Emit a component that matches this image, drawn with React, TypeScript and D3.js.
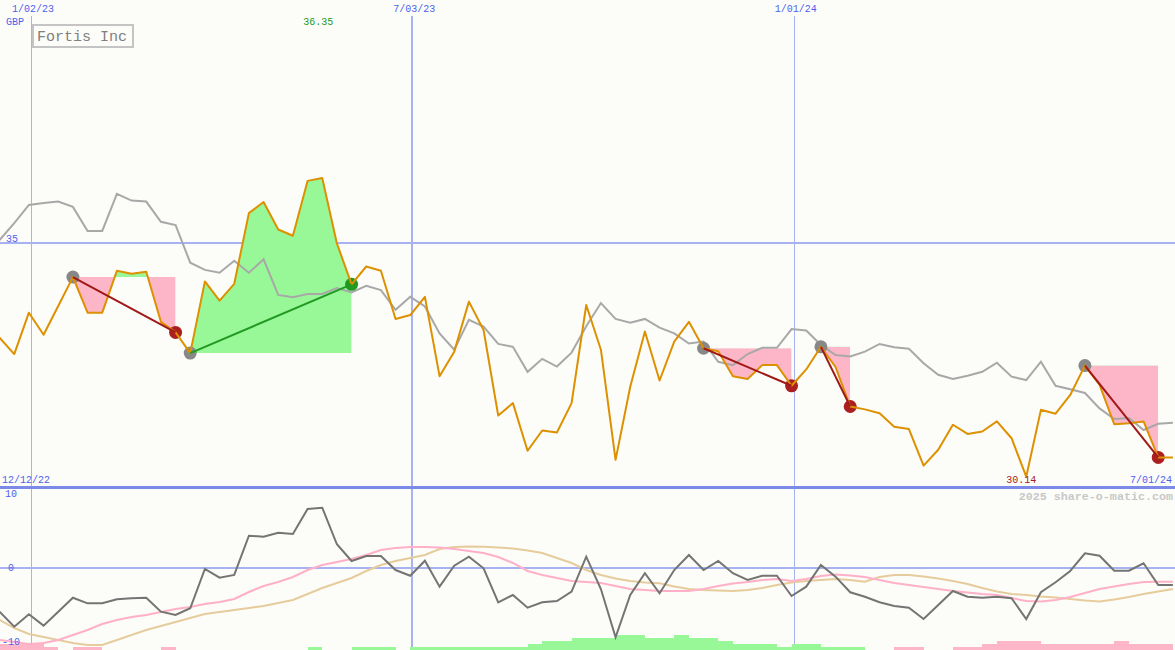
import * as d3 from "d3";

// weekly closes, Sunday 18 Dec 2022 .. Sunday 30 Jun 2024
const weeks = d3.timeWeek.range(new Date(2022, 11, 18), new Date(2024, 6, 1));

const price = [
  33.03, 32.69, 33.55, 33.09, 33.69, 34.29, 33.55, 33.55, 34.42, 34.36,
  34.4, 33.36, 33.14, 32.71, 34.2, 33.8, 34.15, 35.62, 35.85, 35.28,
  35.15, 36.29, 36.35, 34.99, 34.14, 34.51, 34.42, 33.42, 33.5, 33.88,
  32.23, 32.74, 33.78, 33.19, 31.41, 31.67, 30.68, 31.1, 31.06, 31.67,
  33.71, 32.78, 30.49, 32.01, 33.16, 32.14, 32.95, 33.36, 32.81, 32.75,
  32.23, 32.17, 32.46, 32.46, 32.03, 32.37, 32.84, 32.42, 31.6, 31.54,
  31.46, 31.18, 31.13, 30.37, 30.7, 31.22, 31.03, 31.08, 31.29, 30.94,
  30.14, 31.53, 31.45, 31.84, 32.45, 32.05, 31.23, 31.25, 31.29, 30.54,
  30.54,
];

const sector = [
  35.06, 35.41, 35.79, 35.83, 35.86, 35.75, 35.25, 35.25, 36.02, 35.88,
  35.86, 35.44, 35.37, 34.59, 34.44, 34.38, 34.63, 34.38, 34.66, 33.92,
  33.87, 33.94, 33.94, 34.06, 33.97, 34.11, 34.02, 33.61, 33.88, 33.68,
  33.12, 32.78, 33.4, 33.26, 32.9, 32.84, 32.32, 32.59, 32.43, 32.72,
  33.27, 33.75, 33.42, 33.34, 33.42, 33.24, 33.12, 32.91, 32.95, 32.53,
  32.46, 32.69, 32.82, 32.82, 33.21, 33.18, 32.88, 32.67, 32.64, 32.74,
  32.9, 32.83, 32.8, 32.5, 32.26, 32.17, 32.24, 32.32, 32.51, 32.22,
  32.15, 32.53, 32.03, 31.96, 31.88, 31.56, 31.34, 31.36, 31.11, 31.24,
  31.26,
];

const momentum = [
  -5.97, -8.0, -6.32, -7.86, -5.97, -4.08, -4.84, -4.84, -4.3, -4.16,
  -4.08, -5.97, -6.42, -5.51, -0.2, -1.38, -1.01, 4.3, 4.16, 4.7,
  4.53, 7.91, 8.08, 3.14, 0.88, 1.55, 1.55, -0.34, -1.11, 0.92,
  -2.59, 0.24, 1.46, -0.11, -4.7, -3.72, -5.43, -4.7, -4.53, -3.27,
  1.46, -2.91, -9.43, -3.72, -0.78, -3.49, -0.34, 1.69, -0.34, 0.88,
  -0.78, -1.69, -1.11, -1.11, -3.85, -2.59, 0.34, -1.24, -3.35, -3.95,
  -4.7, -5.2, -5.43, -6.96, -5.07, -3.18, -3.95, -4.08, -3.95, -4.16,
  -6.96, -3.35, -2.0, -0.47, 1.92, 1.59, -0.43, -0.43, 0.57, -2.36,
  -2.36,
];

const fastAvg = [
  -9.8, -10.07, -10.34, -10.2, -9.8, -9.12, -8.45, -7.64, -7.09, -6.69,
  -6.42, -6.01, -5.61, -5.34, -4.93, -4.66, -4.26, -3.31, -2.5, -1.96,
  -1.28, -0.34, 0.34, 0.74, 1.15, 1.69, 2.36, 2.64, 2.77, 2.77,
  2.7, 2.5, 2.23, 1.96, 1.42, 0.61, -0.47, -1.01, -1.42, -1.82,
  -1.96, -2.09, -2.5, -2.91, -3.04, -3.18, -3.18, -3.18, -2.91, -2.5,
  -2.16, -1.96, -1.69, -1.55, -1.82, -1.55, -1.15, -0.95, -1.08, -1.28,
  -1.69, -2.09, -2.36, -2.64, -2.91, -3.18, -3.38, -3.58, -3.72, -4.12,
  -4.53, -4.59, -4.39, -3.99, -3.45, -2.91, -2.57, -2.23, -1.96, -1.92,
  -1.92,
];

const slowAvg = [
  -7.09, -8.18, -8.99, -9.39, -9.8, -10.2, -10.47, -10.47, -9.8, -9.12,
  -8.45, -7.91, -7.36, -6.82, -6.28, -6.01, -5.74, -5.47, -5.2, -4.8,
  -4.39, -3.58, -2.77, -2.09, -1.42, -0.47, 0.34, 0.88, 1.28, 1.69,
  2.5, 2.77, 2.84, 2.81, 2.7, 2.57, 2.3, 1.96, 1.28, 0.61,
  -0.34, -1.01, -1.49, -1.82, -2.03, -2.14, -2.57, -2.91, -3.04, -3.11,
  -3.18, -3.04, -2.77, -2.36, -2.03, -1.82, -1.69, -1.55, -1.69, -1.92,
  -1.28, -1.01, -1.01, -1.22, -1.49, -1.82, -2.23, -2.77, -3.24, -3.58,
  -3.72, -3.92, -4.05, -4.26, -4.46, -4.59, -4.32, -3.99, -3.58, -3.24,
  -2.91,
];

// signed strength band along the bottom
const strength = [
  -2, -2, -2, -1, 0, -1, -1, 0, 0, 0,
  0, -1, 0, 0, 0, 0, 0, 0, 0, 0,
  0, 1, 0, 0, 1, 1, 1, 0, 1, 1,
  1, 1, 1, 1, 1, 1, 2, 3, 3, 4,
  4, 4, 5, 5, 4, 4, 5, 4, 4, 3,
  2, 2, 2, 1, 2, 2, 1, 1, 1, 0,
  0, -1, -1, 0, 0, -1, -1, -2, -3, -3,
  -3, -2, -2, -2, -2, -2, -3, -2, -2, -2,
  -2,
];

const tradeOpen = [5, 13, 48, 56, 74];
const tradeClose = [12, 24, 54, 58, 79];

const gridDates = [new Date(2023, 0, 2), new Date(2023, 6, 3), new Date(2024, 0, 1)];
const gridLabels = ["1/02/23", "7/03/23", "1/01/24"];
const gridWidths = [1, 2, 1];
const momTicks = [10, 0, -10];

const W = 1175;
const H = 650;
const FONT = "'Liberation Mono', 'DejaVu Sans Mono', monospace";
const BLUE = "#4f60ee";
const GRID = "#a6b3f0";
const GREEN_FILL = "#98f898";
const PINK_FILL = "#fdb6c8";

export default function App() {
  const x = d3.scaleTime()
    .domain([new Date(2023, 0, 2), new Date(2024, 6, 1)])
    .range([31, 1175]);
  const y = d3.scaleLinear().domain([30.14, 36.35]).range([476.7, 178]);
  const ym = d3.scaleLinear().domain([-10, 10]).range([641.5, 493.5]);
  const yb = d3.scaleLinear().domain([0, 5]).range([650, 635]);

  const px = (i: number) => x(weeks[i]);
  // snap hairlines onto the pixel grid
  const snap = (v: number, w: number) => (w % 2 ? Math.round(v) + 0.5 : Math.round(v));

  const priceLine = d3.line<number>().x((_, i) => px(i)).y((d) => y(d));
  const momLine = d3.line<number>().x((_, i) => px(i)).y((d) => ym(d));

  const hiIdx = d3.maxIndex(price);
  const loIdx = d3.minIndex(price);

  return (
    <svg width={W} height={H} style={{ position: "absolute", left: 0, top: 0, background: "#fcfdf9" }}
      fontFamily={FONT}>
      <defs>
        {tradeOpen.map((o, t) => {
          const c = tradeClose[t];
          const lvl = y(price[o]);
          return (
            <g key={t}>
              <clipPath id={`up${t}`}>
                <rect x={px(o)} y={0} width={px(c) - px(o)} height={lvl} />
              </clipPath>
              <clipPath id={`dn${t}`}>
                <rect x={px(o)} y={lvl} width={px(c) - px(o)} height={487 - lvl} />
              </clipPath>
            </g>
          );
        })}
      </defs>

      {/* grid */}
      {gridDates.map((d, i) => (
        <line key={i} x1={snap(x(d), gridWidths[i])} x2={snap(x(d), gridWidths[i])} y1={16} y2={H}
          stroke={GRID} strokeWidth={gridWidths[i]} />
      ))}
      <line x1={0} x2={W} y1={Math.round(y(35))} y2={Math.round(y(35))} stroke={GRID} strokeWidth={2} />
      <line x1={0} x2={W} y1={Math.round(ym(0))} y2={Math.round(ym(0))} stroke={GRID} strokeWidth={2} />

      {/* trade shading */}
      {tradeOpen.map((o, t) => {
        const c = tradeClose[t];
        const seg = d3.range(o, c + 1);
        const area = d3.area<number>()
          .x((i) => px(i))
          .y0(y(price[o]))
          .y1((i) => y(price[i]));
        const d = area(seg) ?? "";
        return (
          <g key={t}>
            <path d={d} fill={GREEN_FILL} clipPath={`url(#up${t})`} />
            <path d={d} fill={PINK_FILL} clipPath={`url(#dn${t})`} />
          </g>
        );
      })}

      <path d={priceLine(sector) ?? ""} fill="none" stroke="#a8a8a8" strokeWidth={2} />

      {tradeOpen.map((o, t) => {
        const c = tradeClose[t];
        const win = price[c] > price[o];
        return (
          <g key={t}>
            <circle cx={px(o)} cy={y(price[o])} r={6.5} fill="#888888" />
            <circle cx={px(c)} cy={y(price[c])} r={6.5} fill={win ? "#229922" : "#aa2020"} />
          </g>
        );
      })}

      <path d={priceLine(price) ?? ""} fill="none" stroke="#dd9000" strokeWidth={2} strokeLinejoin="round" />

      {tradeOpen.map((o, t) => {
        const c = tradeClose[t];
        const win = price[c] > price[o];
        return (
          <line key={t} x1={px(o)} y1={y(price[o])} x2={px(c)} y2={y(price[c])}
            stroke={win ? "#229922" : "#a01818"} strokeWidth={2} />
        );
      })}

      {/* lower panel */}
      {strength.map((s, i) => s === 0 ? null : (
        <rect key={i} x={px(i)} y={yb(Math.abs(s))} width={px(i + 1) - px(i)}
          height={yb(0) - yb(Math.abs(s))} fill={s > 0 ? GREEN_FILL : PINK_FILL}
          shapeRendering="crispEdges" />
      ))}
      <path d={momLine(slowAvg) ?? ""} fill="none" stroke="#e6cc9c" strokeWidth={2} />
      <path d={momLine(fastAvg) ?? ""} fill="none" stroke="#ffb0c8" strokeWidth={2} />
      <path d={momLine(momentum) ?? ""} fill="none" stroke="#747474" strokeWidth={2} />

      <line x1={0} x2={W} y1={487.5} y2={487.5} stroke="#7b8ae8" strokeWidth={3} />

      {/* labels */}
      <g fontSize={10} fill={BLUE}>
        {gridDates.map((d, i) => (
          <text key={i} x={x(d) + 2} y={12} textAnchor="middle">{gridLabels[i]}</text>
        ))}
        <text x={6} y={25}>GBP</text>
        <text x={6} y={242}>35</text>
        <text x={2} y={483}>12/12/22</text>
        <text x={1172} y={483} textAnchor="end">7/01/24</text>
        {momTicks.map((t) => (
          <text key={t} x={11} y={ym(t) + 3.5} textAnchor="middle">{t}</text>
        ))}
      </g>
      <text x={px(hiIdx) - 4} y={25} fontSize={10} fill="#229922" textAnchor="middle">
        {d3.format(".2f")(price[hiIdx])}
      </text>
      <text x={px(loIdx) - 5} y={483} fontSize={10} fill="#aa2020" textAnchor="middle">
        {d3.format(".2f")(price[loIdx])}
      </text>
      <text x={1173} y={500} fontSize={11.7} fontWeight="bold" fill="#c8c8c8" textAnchor="end">
        2025 share-o-matic.com
      </text>

      <rect x={33} y={25} width={100} height={22} fill="#fcfdf9" stroke="#c4c4c4" strokeWidth={2} />
      <text x={37} y={41} fontSize={15} fill="#808080">Fortis Inc</text>
    </svg>
  );
}
